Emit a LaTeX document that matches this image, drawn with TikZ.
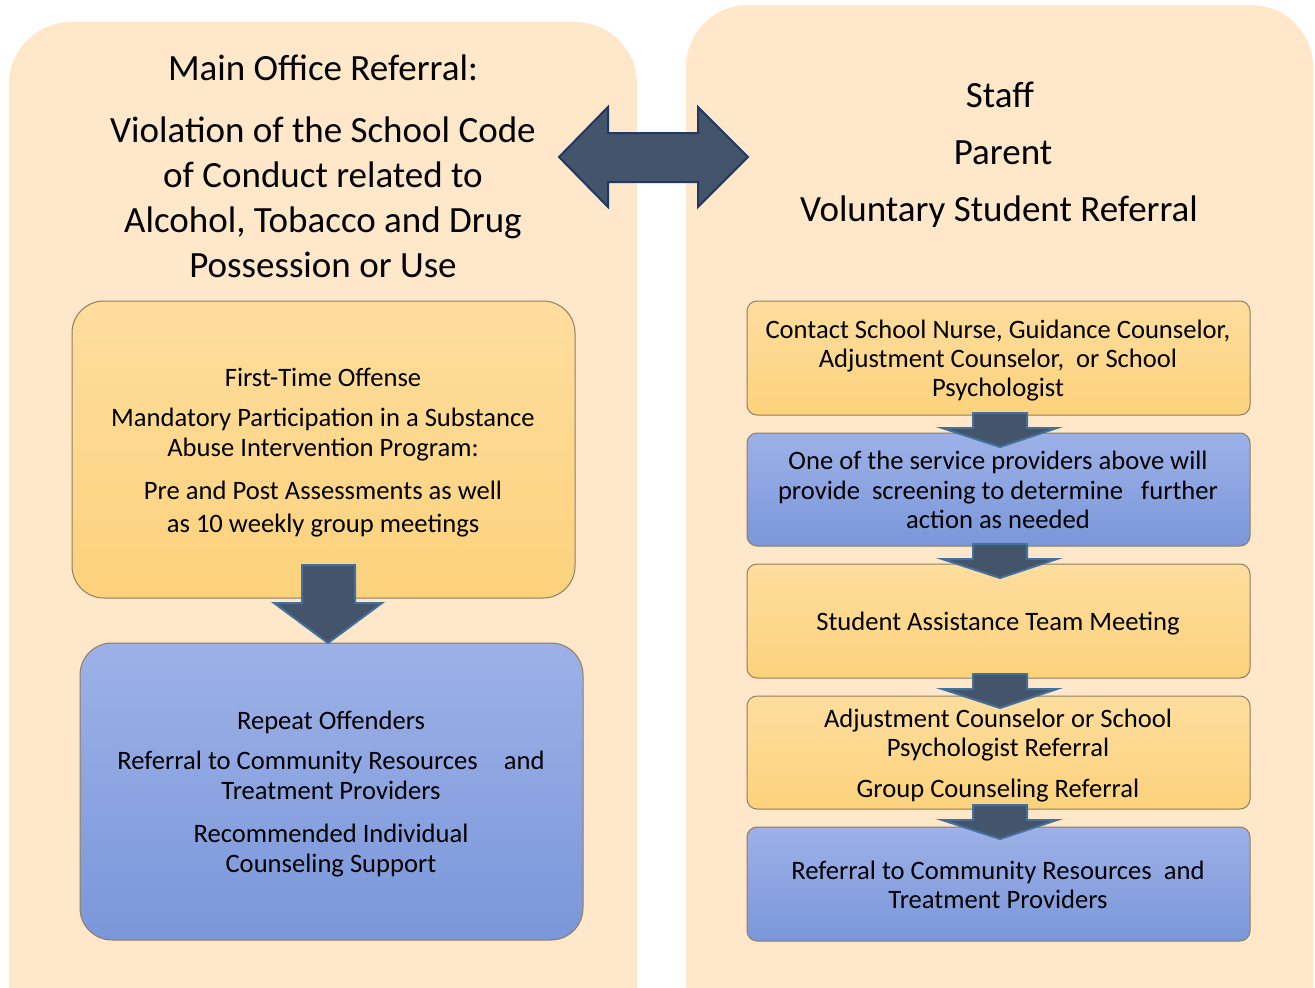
\documentclass[tikz,border=0pt]{standalone}
\usepackage{fontspec}
\setmainfont{Carlito}
\definecolor{panel}{HTML}{FFE7CA}
\definecolor{ytop}{HTML}{FEDD9E}
\definecolor{ybot}{HTML}{FCD27C}
\definecolor{btop}{HTML}{9DB1E7}
\definecolor{bbot}{HTML}{7A97DA}
\definecolor{boxline}{HTML}{8E7E62}
\definecolor{arrowfill}{HTML}{44546A}
\definecolor{navy}{HTML}{1F3864}
\definecolor{arrowblue}{HTML}{41719C}
\tikzset{
  panelbox/.style={fill=panel, draw=none, rounded corners=62pt},
  ybox/.style={draw=boxline, line width=1pt, top color=ytop, bottom color=ybot},
  bbox/.style={draw=boxline, line width=1pt, top color=btop, bottom color=bbot},
  titletext/.style={font=\fontsize{37}{44}\selectfont, inner sep=0pt, text height=0.7em, text depth=0.22em, yshift=-10pt},
  bodytext/.style={font=\fontsize{26.6}{31}\selectfont, inner sep=0pt, text height=0.7em, text depth=0.22em, yshift=-7pt},
  blockarrow/.style={fill=arrowfill, draw=arrowblue, line width=2pt, line join=miter},
}
\begin{document}
\begin{tikzpicture}[x=1pt, y=-1pt]
\path[fill=white] (0,0) rectangle (1315,988);
\useasboundingbox (0,0) rectangle (1315,988);
% panels
\path[panelbox] (9,22) rectangle (637,1050);
\path[panelbox] (686,5) rectangle (1313,1050);
% left titles
\node[titletext] (lt1) at (323,68) {Main Office Referral:};
\node[titletext] (lt2) at (323,130) {Violation of the School Code};
\node[titletext] (lt3) at (323,175) {of Conduct related to};
\node[titletext] (lt4) at (323,220) {Alcohol, Tobacco and Drug};
\node[titletext] (lt5) at (323,265) {Possession or Use};
% right titles
\node[titletext] (rt1) at (1000,95) {Staff};
\node[titletext] (rt2) at (1003,152) {Parent};
\node[titletext] (rt3) at (999,209) {Voluntary Student Referral};
% double arrow
\draw[blockarrow, draw=navy] (559,157) -- (608,107) -- (608,133) -- (698,133) -- (698,107) -- (748,157) -- (698,207) -- (698,182) -- (608,182) -- (608,207) -- cycle;
% left boxes
\path[ybox, rounded corners=32pt] (72,301) rectangle (575,598);
\path[bbox, rounded corners=32pt] (80,643) rectangle (583,940);
\draw[blockarrow] (302,565) -- (355,565) -- (355,603) -- (382,603) -- (328,643) -- (274,603) -- (302,603) -- cycle;
\node[bodytext] (l1) at (323,377) {First-Time Offense};
\node[bodytext] (l2) at (323,417) {Mandatory Participation in a Substance};
\node[bodytext] (l3) at (323,447) {Abuse Intervention Program:};
\node[bodytext] (l4) at (323,490) {Pre and Post Assessments as well};
\node[bodytext] (l5) at (323,523) {as 10 weekly group meetings};
\node[bodytext] (b1) at (331,720) {Repeat Offenders};
\node[bodytext] (b2) at (331,760) {Referral to Community Resources\hspace{26pt}and};
\node[bodytext] (b3) at (331,790) {Treatment Providers};
\node[bodytext] (b4) at (331,833) {Recommended Individual};
\node[bodytext] (b5) at (331,863) {Counseling Support};
% right boxes
\path[ybox, rounded corners=10pt] (747,301) rectangle (1250,415);
\path[bbox, rounded corners=10pt] (747,433) rectangle (1250,546);
\path[ybox, rounded corners=10pt] (747,564) rectangle (1250,678);
\path[ybox, rounded corners=10pt] (747,696) rectangle (1250,809);
\path[bbox, rounded corners=10pt] (747,827) rectangle (1250,941);
\foreach \t in {413,544,674,805}{
  \draw[blockarrow] (973,\t) -- (1027,\t) -- (1027,\t+15) -- (1057,\t+15) -- (1000,\t+34) -- (942,\t+15) -- (973,\t+15) -- cycle;
}
\node[bodytext] (r11) at (998,329) {Contact School Nurse, Guidance Counselor,};
\node[bodytext] (r12) at (998,358) {Adjustment Counselor,\ \ or School};
\node[bodytext] (r13) at (998,387) {Psychologist};
\node[bodytext] (r21) at (998,460) {One of the service providers above will};
\node[bodytext] (r22) at (998,490) {provide\ \ screening to determine\ \ \ further};
\node[bodytext] (r23) at (998,519) {action as needed};
\node[bodytext] (r31) at (998,621) {Student Assistance Team Meeting};
\node[bodytext] (r41) at (998,718) {Adjustment Counselor or School};
\node[bodytext] (r42) at (998,747) {Psychologist Referral};
\node[bodytext] (r43) at (998,788) {Group Counseling Referral};
\node[bodytext] (r51) at (998,870) {Referral to Community Resources\ \ and};
\node[bodytext] (r52) at (998,899) {Treatment Providers};
\end{tikzpicture}
\end{document}
